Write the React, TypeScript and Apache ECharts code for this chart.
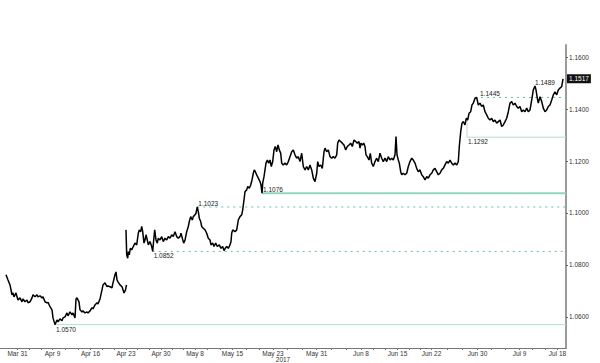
import React, { useEffect, useRef } from "react";
import * as echarts from "echarts";

// trading-session position (time index along the x axis) and EUR/USD price
const sessionT: number[] = [
  6, 8, 10, 12, 13, 14, 16, 17, 18, 20, 22, 23, 25, 27, 28, 30, 32, 33, 35, 37, 38, 40, 42, 43, 45, 47, 48, 50,
  52, 53, 55, 57, 58, 60, 62, 63, 65, 67, 68, 70, 72, 73, 75, 76, 77, 79, 80, 82, 83, 85, 87, 88, 90, 92, 93, 95,
  97, 98, 100, 102, 103, 105, 107, 108, 110, 112, 113, 115, 116, 117, 118, 120, 122, 123, 124, 125.5, 126.5,
  126,
  126, 126.7, 127.7, 128.3, 129.3, 130.3, 131.7, 133.3, 135, 136.7, 138.3, 139.3, 140.7, 141.7, 142.7, 144, 145,
  146, 147.3, 148.3, 150, 151.7, 152.7, 153.7, 154.7, 156, 157.3, 158.3, 160, 161.7, 163.3, 165, 166.7, 168.3,
  170, 171.7, 173.3, 175, 176.7, 178.3, 180, 181, 182.3, 183.7, 185, 186.7, 188.3, 189.3, 190.7, 192.3, 193.3,
  195, 196, 197.3, 198.3, 199.3, 200.7, 201.7, 203.3, 205, 206.7, 208.3, 210, 211, 212.7, 214, 215.7, 217.3,
  219.3, 221, 222.7, 224, 225.3, 226.7, 228.3, 230, 231, 231.7, 232.7, 235, 236.7, 238.3, 240, 241.7, 242.7, 244,
  245, 246.7, 247.7, 249.3, 250.7, 252, 253.3, 254.3, 255.3, 256.7, 258.3, 260, 261, 262, 262.7, 264, 265, 266,
  267.3, 268.7, 270, 271.3, 272.7, 274, 275.3, 276.7, 278, 279.3, 280.7, 281.7, 283.3, 285, 286.7, 288.3, 290,
  291.7, 293.3, 295, 296.7, 298.3, 300, 301.7, 303.3, 305, 306.7, 308.3, 310, 311.7, 313.3, 315, 316.7, 317.7,
  319, 320.7, 322.3, 324, 325, 326.7, 328.3, 330, 331.7, 333.3, 335, 336.7, 337.7, 339, 340.7, 342.3, 344, 345.7,
  347.3, 349, 350.7, 352.3, 354, 355.7, 357.3, 359, 360, 361, 362.3, 363.7, 365, 366, 367.3, 369, 370.3, 371.7,
  373.3, 375, 376.7, 378.3, 380, 381.7, 383.3, 385, 386.7, 388.3, 390, 391.7, 393.3, 395, 396, 397, 398.3, 399.3,
  400.7, 401.7, 403.3, 405, 406.7, 408.3, 410, 411.7, 413.3, 415, 416.7, 418.3, 420, 421.7, 423.3, 425, 426.7,
  428.3, 430, 431.7, 433.3, 435, 436.7, 438.3, 440, 441.7, 443.3, 445, 446.7, 448.3, 450, 451.7, 453.3, 455,
  456.7, 458.3, 459.3, 460.7, 462, 463.3, 465, 466.3, 467.7, 469, 470.7, 472, 473.3, 475, 476.7, 478.3, 480,
  481.7, 483.3, 485, 486.7, 488.3, 490, 491.7, 493.3, 495, 496.7, 498.3, 500, 501.7, 503.3, 505, 506.7, 508.3,
  510, 511.7, 513.3, 515, 516.7, 518.3, 520, 521.7, 523.3, 525, 526.7, 528.3, 530, 531.7, 533.3, 535, 536, 537.3,
  538.3, 540, 541.7, 543.3, 545, 546.7, 548.3, 550, 551.7, 553.3, 555, 556.7, 558.3, 560, 561.7, 563,
];

const eurusd: (number | null)[] = [
  1.0762, 1.0742, 1.0723, 1.0685, 1.0692, 1.0677, 1.0692, 1.0677, 1.0665, 1.0673, 1.0658, 1.0669, 1.0658, 1.0665,
  1.0654, 1.0658, 1.0673, 1.0685, 1.0677, 1.0685, 1.0677, 1.0681, 1.0673, 1.0677, 1.0658, 1.0654, 1.0656, 1.0639,
  1.0627, 1.0596, 1.057, 1.0588, 1.0581, 1.0592, 1.0585, 1.0596, 1.06, 1.0615, 1.0604, 1.0619, 1.0608, 1.0615,
  1.0596, 1.0669, 1.0673, 1.0658, 1.0627, 1.0619, 1.0623, 1.0615, 1.0619, 1.0615, 1.0623, 1.0635, 1.0631, 1.0646,
  1.0654, 1.065, 1.0669, 1.0704, 1.0723, 1.0731, 1.0716, 1.0719, 1.0716, 1.0712, 1.0731, 1.0762, 1.0773, 1.0742,
  1.0735, 1.0723, 1.0716, 1.0704, 1.0692, 1.0704, 1.0723,
  null,
  1.0935, 1.0839, 1.0826, 1.0851, 1.0839, 1.0864, 1.0858, 1.0871, 1.0884, 1.0877, 1.0922, 1.0935, 1.0928, 1.0948,
  1.0928, 1.0884, 1.0896, 1.0916, 1.0896, 1.0877, 1.089, 1.0871, 1.0852, 1.0896, 1.0935, 1.0896, 1.0884, 1.0903,
  1.0896, 1.0909, 1.089, 1.0903, 1.0896, 1.0909, 1.0903, 1.0916, 1.0909, 1.0928, 1.0909, 1.0903, 1.0909, 1.0922,
  1.0903, 1.0884, 1.0896, 1.0928, 1.0948, 1.0967, 1.0986, 1.0973, 1.0986, 1.0993, 1.0999, 1.1023, 1.1005, 1.098,
  1.0967, 1.0948, 1.0941, 1.0935, 1.0922, 1.0903, 1.0896, 1.0877, 1.0884, 1.0871, 1.0884, 1.0871, 1.0877, 1.0864,
  1.0871, 1.0855, 1.0864, 1.0871, 1.0864, 1.0877, 1.089, 1.0922, 1.0935, 1.0928, 1.0935, 1.0973, 1.0986, 1.0993,
  1.1012, 1.105, 1.1082, 1.1089, 1.1102, 1.1095, 1.1108, 1.1127, 1.1153, 1.1166, 1.1159, 1.1147, 1.1134, 1.1121,
  1.1108, 1.1076, 1.1115, 1.114, 1.1166, 1.1192, 1.1204, 1.1192, 1.1204, 1.1179, 1.1198, 1.1243, 1.1256, 1.1236,
  1.1262, 1.1243, 1.123, 1.1192, 1.1185, 1.1192, 1.1185, 1.1198, 1.1217, 1.1236, 1.1243, 1.1224, 1.1211, 1.1217,
  1.1198, 1.123, 1.1179, 1.1166, 1.1179, 1.1166, 1.1185, 1.1166, 1.1134, 1.1121, 1.1153, 1.1198, 1.1179, 1.1185,
  1.1172, 1.1236, 1.125, 1.1236, 1.1243, 1.1217, 1.1211, 1.1217, 1.1211, 1.1224, 1.1269, 1.1281, 1.1275, 1.1269,
  1.1262, 1.1243, 1.1256, 1.1262, 1.1269, 1.1256, 1.1281, 1.1275, 1.1269, 1.1275, 1.125, 1.1269, 1.1262, 1.1269,
  1.1256, 1.1224, 1.1217, 1.1204, 1.123, 1.1192, 1.1179, 1.1198, 1.1211, 1.1198, 1.123, 1.1211, 1.1198, 1.1211,
  1.1198, 1.1217, 1.1204, 1.1211, 1.1204, 1.1224, 1.1294, 1.1224, 1.1204, 1.1192, 1.1159, 1.1147, 1.1153, 1.1147,
  1.1153, 1.1179, 1.1198, 1.1211, 1.1204, 1.1192, 1.1172, 1.1159, 1.1166, 1.1147, 1.114, 1.1127, 1.114, 1.1134,
  1.1147, 1.1153, 1.1166, 1.1172, 1.1159, 1.1147, 1.1153, 1.1166, 1.1172, 1.1185, 1.1198, 1.1192, 1.1204, 1.1192,
  1.1185, 1.1192, 1.1185, 1.1198, 1.1256, 1.1313, 1.1346, 1.1352, 1.1339, 1.1365, 1.1358, 1.1384, 1.139, 1.1416,
  1.1423, 1.1442, 1.1445, 1.1416, 1.1423, 1.141, 1.1416, 1.139, 1.1378, 1.1365, 1.1358, 1.1365, 1.1352, 1.1358,
  1.1346, 1.1352, 1.1358, 1.1333, 1.1339, 1.1352, 1.1365, 1.139, 1.1423, 1.1429, 1.1416, 1.1423, 1.141, 1.1404,
  1.141, 1.139, 1.1397, 1.139, 1.1404, 1.139, 1.1397, 1.1435, 1.1474, 1.1489, 1.1474, 1.1442, 1.1423, 1.1448,
  1.1429, 1.1404, 1.139, 1.1397, 1.141, 1.1416, 1.1435, 1.1455, 1.1467, 1.1455, 1.1474, 1.1481, 1.1487, 1.1517,
];

const dateTickPos = [17.5, 52.5, 90.5, 126, 161, 195, 232.5, 273, 316.7, 361, 397.5, 431.5, 477.5, 519.5, 557.5];
const dateTickLabels = [
  "Mar 31", "Apr 9", "Apr 16", "Apr 23", "Apr 30", "May 8", "May 15", "May 23",
  "May 31", "Jun 8", "Jun 15", "Jun 22", "Jun 30", "Jul 9", "Jul 18",
];
const yearLabel = "2017";
const yearUnder = "May 23";
const priceTicks = [1.06, 1.08, 1.1, 1.12, 1.14, 1.16];

// annotated levels and the session position where each starts
const levelValues = [1.057, 1.0852, 1.1023, 1.1076, 1.1292, 1.1445];
const levelFrom = [55, 152.7, 197.3, 262, 467, 475];
const peakValue = 1.1489;
const peakT = 535;
const lastPrice = 1.1517;

const FONT = "'Liberation Sans Narrow', 'Liberation Sans', Arial, sans-serif";

export default function App() {
  const ref = useRef<HTMLDivElement>(null);

  useEffect(() => {
    if (!ref.current) return;
    const chart = echarts.init(ref.current, undefined, { renderer: "svg" });

    const data = sessionT.map((t, i) => (eurusd[i] === null ? [t, "-"] : [t, eurusd[i]]));
    const xMax = 566;

    const xTicks: number[] = [];
    for (let i = 0; i < dateTickPos.length; i++) {
      xTicks.push(dateTickPos[i]);
      if (i < dateTickPos.length - 1) {
        const a = dateTickPos[i];
        const b = dateTickPos[i + 1];
        xTicks.push(a + (b - a) / 3, a + ((b - a) * 2) / 3);
      }
    }

    const dashed = new Set([1.0852, 1.1023, 1.1445]);
    const below = new Set([1.057, 1.0852, 1.1292]);
    const labelShiftX: Record<string, number> = { "1.1445": 4 };

    const levelSeries: any[] = levelValues.map((lv, i) => {
      const isDash = dashed.has(lv);
      return {
        type: "line",
        silent: true,
        symbol: "none",
        z: 1,
        lineStyle: {
          color: isDash ? "#5cc0a6" : lv === 1.1076 ? "#93d5bc" : "#b3e0d0",
          width: lv === 1.1076 ? 2 : 1,
          type: isDash ? [2, 4] : "solid",
        },
        data: [
          [levelFrom[i], lv],
          [xMax, lv],
        ],
      };
    });

    const levelLabels = levelValues.map((lv, i) => {
      const key = lv.toFixed(4);
      return {
        coord: [levelFrom[i], lv],
        label: {
          show: true,
          formatter: key,
          position: "right",
          distance: 1,
          offset: [labelShiftX[key] || 0, below.has(lv) ? 4.5 : -3.5],
          fontSize: 6.5,
          fontFamily: FONT,
          color: "#222",
        },
      };
    });

    // grey connector from the 1.1292 level up to the price at that session
    const fromT = levelFrom[4];
    let nearest = 0;
    sessionT.forEach((t, i) => {
      if (eurusd[i] !== null && Math.abs(t - fromT) < Math.abs(sessionT[nearest] - fromT)) nearest = i;
    });
    levelSeries.push({
      type: "line",
      silent: true,
      symbol: "none",
      z: 1,
      lineStyle: { color: "#cfcfcf", width: 1 },
      data: [
        [fromT, levelValues[4]],
        [fromT, eurusd[nearest] as number],
      ],
    });

    chart.setOption({
      animation: false,
      backgroundColor: "#fff",
      grid: { left: 0, right: 34, top: 45, bottom: 15 },
      xAxis: {
        type: "value",
        min: 0,
        max: xMax,
        axisLine: { show: true, onZero: false, lineStyle: { color: "#777", width: 1 } },
        axisTick: { show: true, customValues: xTicks, length: 2, lineStyle: { color: "#777" } },
        axisLabel: {
          customValues: dateTickPos,
          margin: 2,
          fontSize: 6.5,
          lineHeight: 6,
          fontFamily: FONT,
          color: "#333",
          formatter: (v: number) => {
            const i = dateTickPos.findIndex((p) => Math.abs(p - v) < 0.01);
            if (i < 0) return "";
            const lab = dateTickLabels[i];
            return lab === yearUnder ? lab + "\n{yr|" + yearLabel + "}" : lab;
          },
          rich: { yr: { fontSize: 6.5, fontFamily: FONT, color: "#333", padding: [0, 0, 0, 20], lineHeight: 6 } },
        },
        splitLine: { show: false },
      },
      yAxis: {
        type: "value",
        position: "right",
        min: 1.048,
        max: 1.1647,
        axisLine: { show: true, onZero: false, lineStyle: { color: "#9a9a9a", width: 2 } },
        axisTick: { show: true, customValues: priceTicks, length: 2, lineStyle: { color: "#666" } },
        axisLabel: {
          customValues: priceTicks,
          margin: 3,
          fontSize: 6.5,
          fontFamily: FONT,
          color: "#333",
          formatter: (v: number) => v.toFixed(4),
        },
        splitLine: { show: false },
      },
      series: [
        ...levelSeries,
        {
          type: "line",
          data,
          z: 3,
          symbol: "none",
          showSymbol: false,
          connectNulls: false,
          clip: false,
          lineStyle: { color: "#000", width: 1.5 },
          markPoint: {
            silent: true,
            symbol: "circle",
            symbolSize: 0,
            data: [
              ...levelLabels,
              {
                coord: [peakT, peakValue],
                label: {
                  show: true,
                  formatter: peakValue.toFixed(4),
                  position: "right",
                  offset: [-5, -4],
                  fontSize: 6.5,
                  fontFamily: FONT,
                  color: "#222",
                },
              },
              {
                coord: [xMax, lastPrice],
                label: {
                  show: true,
                  formatter: lastPrice.toFixed(4),
                  position: "right",
                  distance: 1,
                  backgroundColor: "#111",
                  color: "#fff",
                  padding: [1, 2, 1, 2],
                  fontSize: 6.5,
                  fontFamily: FONT,
                },
              },
            ],
          },
        },
      ],
    });

    return () => chart.dispose();
  }, []);

  return <div ref={ref} style={{ position: "fixed", left: 0, top: 0, width: 600, height: 363 }} />;
}
